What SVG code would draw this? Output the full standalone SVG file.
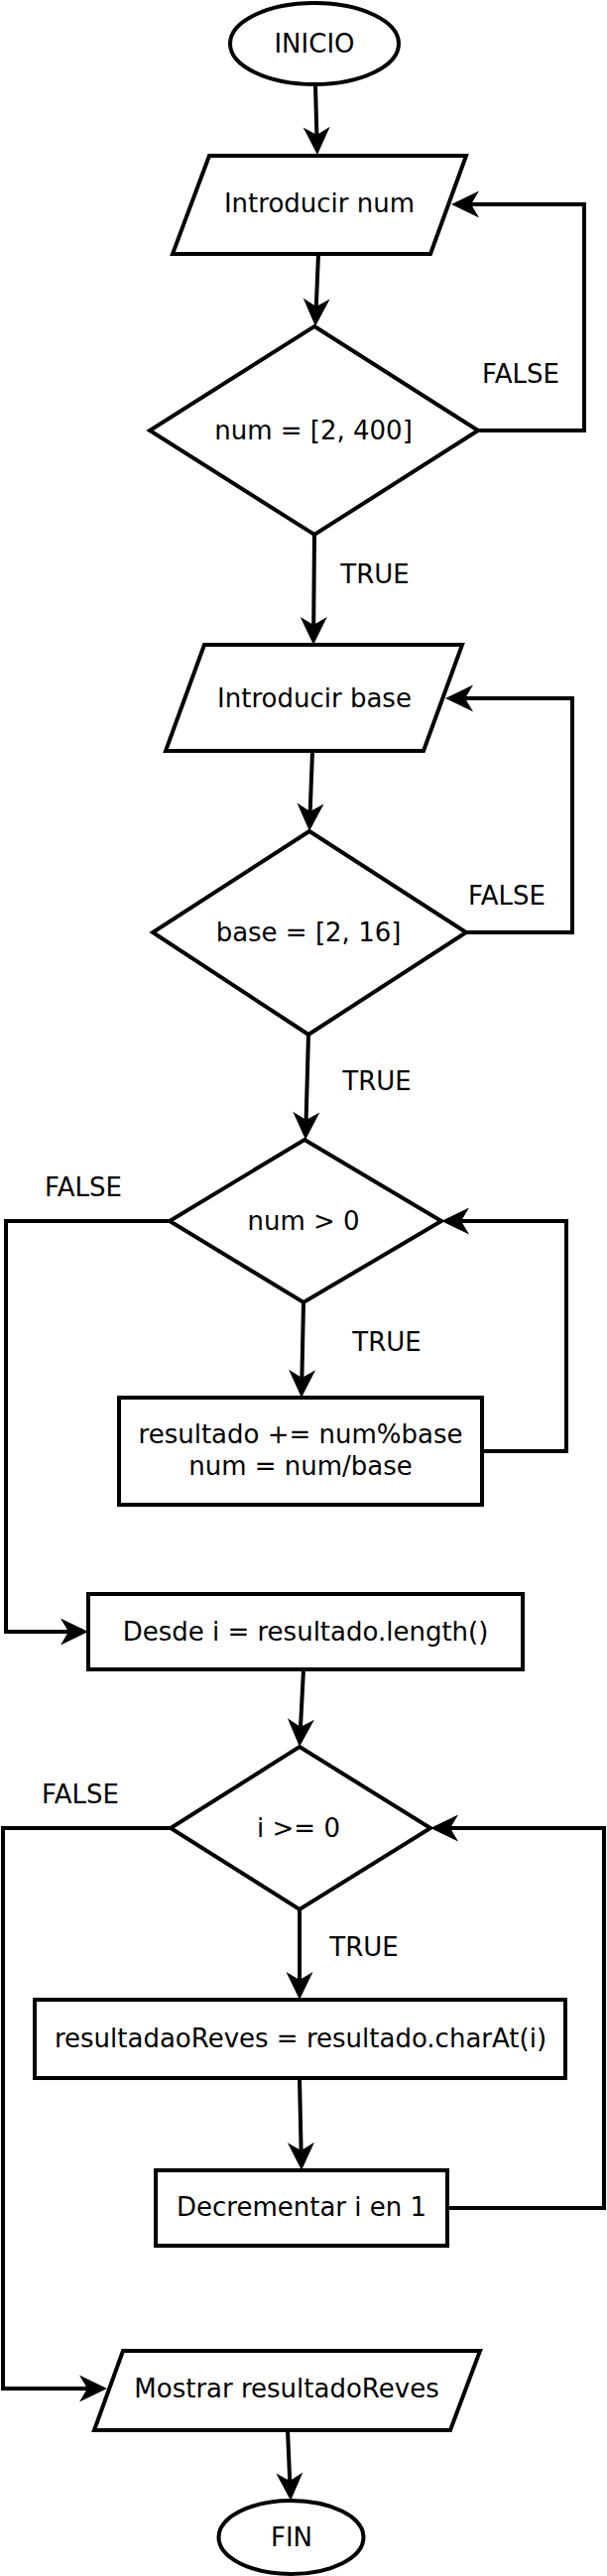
<svg xmlns="http://www.w3.org/2000/svg" width="612" height="2597" viewBox="0 0 612 2597">
<style>
.s{fill:#fff;stroke:#000;stroke-width:4}
.t{font-family:"DejaVu Sans",Verdana,sans-serif;font-size:26px;fill:#000;text-anchor:middle}
.c{fill:none;stroke:#000;stroke-width:4;marker-end:url(#ah)}
</style>
<defs>
<marker id="ah" markerUnits="userSpaceOnUse" markerWidth="30" markerHeight="30" refX="8" refY="13.5" orient="auto" overflow="visible">
<path d="M0,0 L28,13.5 L0,27 L8,13.5 Z" fill="#000"/>
</marker>
</defs>
<rect width="612" height="2597" fill="#fff"/>
<g id="connectors">
<path class="c" d="M318,86 L319.4,136"/>
<path class="c" d="M321,256 L318.8,309"/>
<path class="c" d="M482,434 L589,434 L589,206 L475,206"/>
<path class="c" d="M317,539 L316.2,630"/>
<path class="c" d="M315,757 L312.7,818"/>
<path class="c" d="M470,940 L577,940 L577,704 L469,704"/>
<path class="c" d="M311,1043 L308.6,1129"/>
<path class="c" d="M171,1231 L6,1231 L6,1645 L69,1645"/>
<path class="c" d="M306,1313 L304.4,1389"/>
<path class="c" d="M486,1463 L571,1463 L571,1231 L465,1231"/>
<path class="c" d="M306,1683 L303,1741"/>
<path class="c" d="M172,1843 L3,1843 L3,2408 L88,2408"/>
<path class="c" d="M302,1925 L302,1996"/>
<path class="c" d="M302,2095 L303.6,2168"/>
<path class="c" d="M451,2226 L609,2226 L609,1843 L454,1843"/>
<path class="c" d="M290,2450 L292.2,2501"/>
</g>
<g id="labels">
<text class="t" x="525" y="386">FALSE</text>
<text class="t" x="378" y="588">TRUE</text>
<text class="t" x="511" y="912">FALSE</text>
<text class="t" x="380" y="1099">TRUE</text>
<text class="t" x="84" y="1206">FALSE</text>
<text class="t" x="390" y="1362">TRUE</text>
<text class="t" x="81" y="1818">FALSE</text>
<text class="t" x="367" y="1972">TRUE</text>
</g>
<g id="inicio"><ellipse class="s" cx="317" cy="44" rx="85" ry="41"/><text class="t" x="317" y="53">INICIO</text></g>
<g id="introducir-num"><polygon class="s" points="211,157 470,157 434,256 174,256"/><text class="t" x="322" y="214">Introducir num</text></g>
<g id="cond-num"><polygon class="s" points="317,329 482,434 317,539 151,434"/><text class="t" x="316" y="443">num = [2, 400]</text></g>
<g id="introducir-base"><polygon class="s" points="206,650 466,650 427,757 167,757"/><text class="t" x="317" y="713">Introducir base</text></g>
<g id="cond-base"><polygon class="s" points="312,838 470,940 311,1043 154,940"/><text class="t" x="311" y="949">base = [2, 16]</text></g>
<g id="cond-num-pos"><polygon class="s" points="307,1149 445,1231 306,1313 171,1231"/><text class="t" x="306" y="1240">num &gt; 0</text></g>
<g id="calc"><rect class="s" x="120" y="1409" width="366" height="108"/><text class="t" x="303" y="1455">resultado += num%base</text><text class="t" x="303" y="1487">num = num/base</text></g>
<g id="desde"><rect class="s" x="89" y="1607" width="438" height="76"/><text class="t" x="308" y="1654">Desde i = resultado.length()</text></g>
<g id="cond-i"><polygon class="s" points="302,1761 434,1843 302,1925 172,1843"/><text class="t" x="301" y="1852">i &gt;= 0</text></g>
<g id="reves"><rect class="s" x="35" y="2016" width="535" height="79"/><text class="t" x="303" y="2064">resultadaoReves = resultado.charAt(i)</text></g>
<g id="decrementar"><rect class="s" x="157" y="2188" width="294" height="76"/><text class="t" x="304" y="2234">Decrementar i en 1</text></g>
<g id="mostrar"><polygon class="s" points="124,2370 484,2370 454,2450 95,2450"/><text class="t" x="289" y="2417">Mostrar resultadoReves</text></g>
<g id="fin"><ellipse class="s" cx="293.5" cy="2558" rx="73" ry="37"/><text class="t" x="294" y="2567">FIN</text></g>
</svg>
